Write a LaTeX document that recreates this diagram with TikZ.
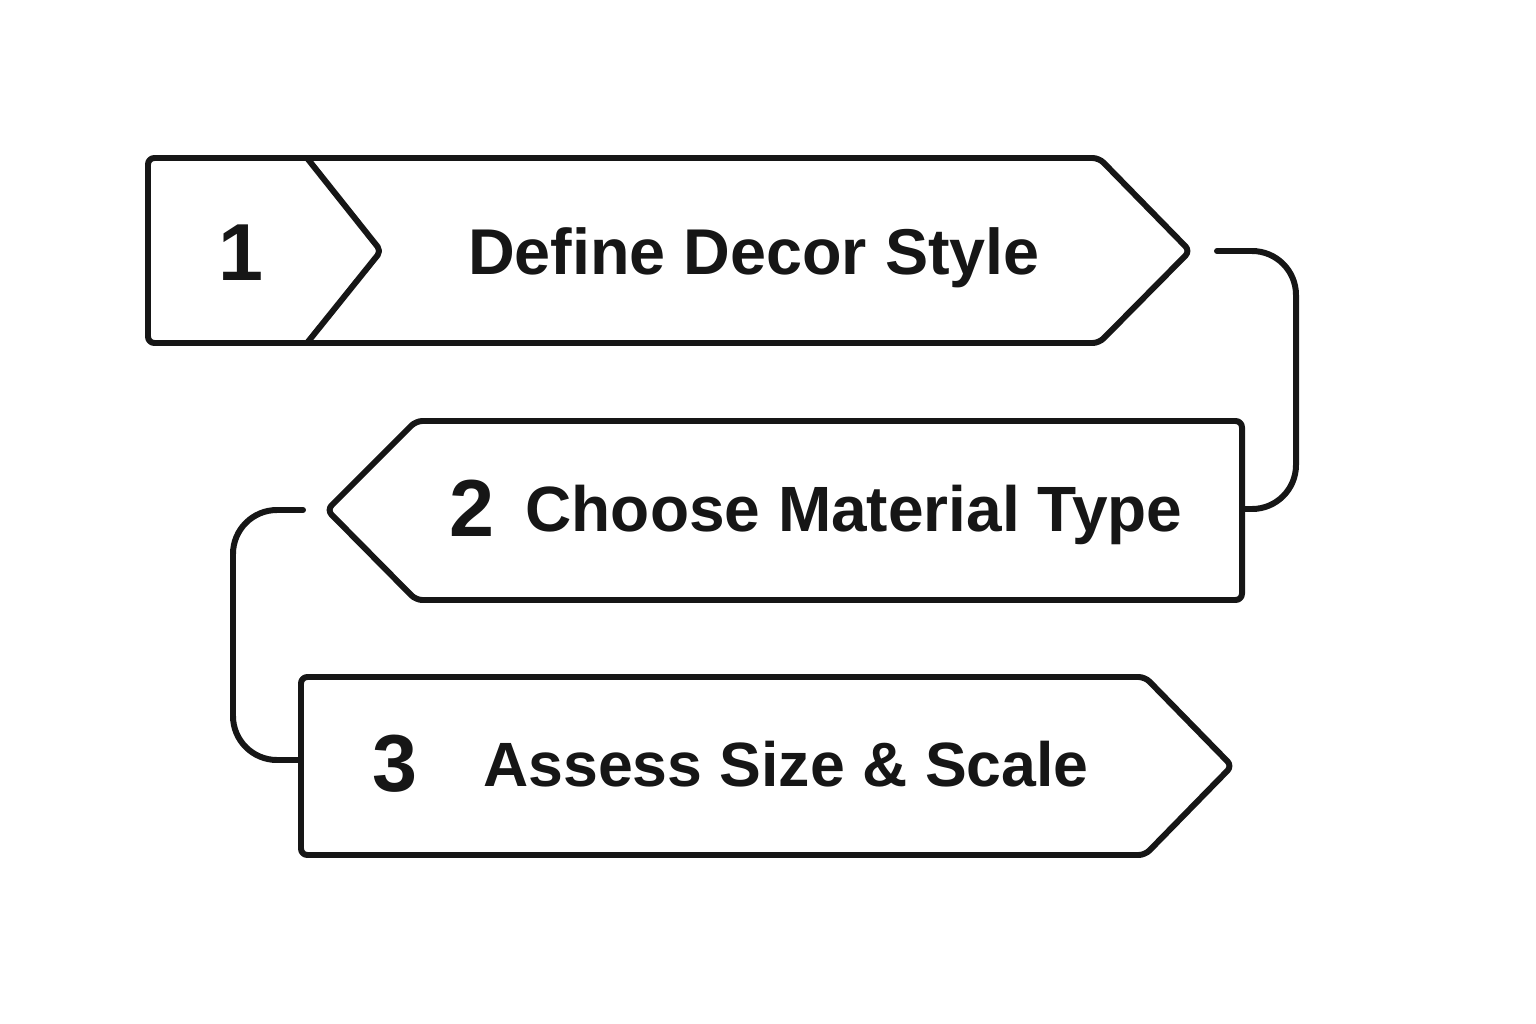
\documentclass[tikz,border=0pt]{standalone}
\usepackage{fontspec}
\setmainfont{Liberation Sans}
\usepackage{xcolor}
\usepackage{tikz}
\usetikzlibrary{positioning,calc}
\definecolor{ink}{RGB}{22,22,22}
\tikzset{
  stepshape/.style={draw=ink, line width=1.7pt, rounded corners=1.8pt, line join=round},
  link/.style={draw=ink, line width=1.7pt, rounded corners=12.5pt, line cap=round},
  numlbl/.style={font=\fontsize{23}{23}\selectfont\bfseries, text=ink, inner sep=0pt, anchor=base},
  steplbl/.style={font=\fontsize{18.4}{18.4}\selectfont\bfseries, text=ink, inner sep=0pt, anchor=base}
}

\begin{document}
\begin{tikzpicture}[x=0.01cm, y=-0.01cm]
        \useasboundingbox (0,0) rectangle (1536,1024);
        % step 1
        \draw[stepshape] (148,158) -- (1099,158) -- (1190,251) -- (1099,343) -- (148,343) -- cycle;
        \draw[stepshape, rounded corners=1.5pt] (307,158) -- (381,251) -- (307,343);
        \node[numlbl] (n1) at (241,280) {1};
        \node[steplbl] (t1) at (754,274) {Define Decor Style};
        % step 2
        \draw[stepshape] (1242,421) -- (1242,600) -- (416,600) -- (327,510) -- (416,421) -- cycle;
        \node[numlbl] (n2) at (472,536) {2};
        \node[steplbl, font=\fontsize{18.2}{18.2}\selectfont\bfseries] (t2) at (854,531) {Choose Material Type};
        % step 3
        \draw[stepshape] (301,677) -- (1145,677) -- (1232,766) -- (1145,855) -- (301,855) -- cycle;
        \node[numlbl] (n3) at (395,791) {3};
        \node[steplbl, font=\fontsize{17.8}{17.8}\selectfont\bfseries] (t3) at (786,786) {Assess Size \& Scale};
        % connectors
        \coordinate (c1s) at (1217,251);
        \coordinate (c1e) at (1242,509);
        \coordinate (r1) at (1296,380);
        \coordinate (c2s) at (303,510);
        \coordinate (c2e) at (301,760);
        \coordinate (r2) at (233,635);
        \draw[link] (c1s) -| (r1) |- (c1e);
        \draw[link] (c2s) -| (r2) |- (c2e);
      \end{tikzpicture}
\end{document}
